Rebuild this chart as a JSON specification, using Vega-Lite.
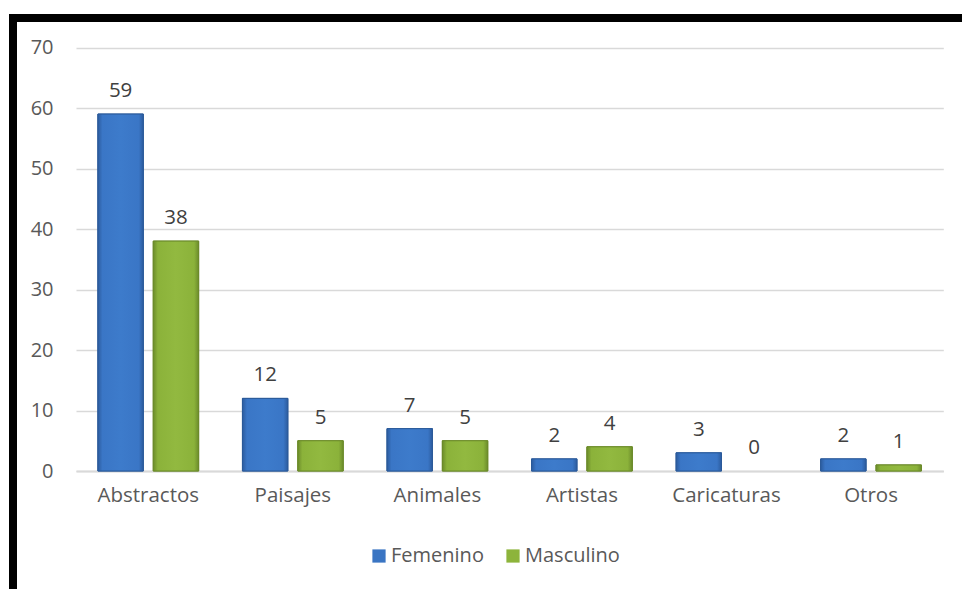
{
  "$schema": "https://vega.github.io/schema/vega-lite/v6.json",
  "width": 1000,
  "height": 600,
  "autosize": {"type": "none"},
  "padding": {"left": 13, "top": 18, "right": 0, "bottom": 0},
  "background": "white",
  "config": {
    "view": {"stroke": "black", "strokeWidth": 8},
    "font": "Open Sans"
  },
  "data": {
    "values": [
      {"cat": "Abstractos", "g": "Femenino", "v": 59},
      {"cat": "Abstractos", "g": "Masculino", "v": 38},
      {"cat": "Paisajes", "g": "Femenino", "v": 12},
      {"cat": "Paisajes", "g": "Masculino", "v": 5},
      {"cat": "Animales", "g": "Femenino", "v": 7},
      {"cat": "Animales", "g": "Masculino", "v": 5},
      {"cat": "Artistas", "g": "Femenino", "v": 2},
      {"cat": "Artistas", "g": "Masculino", "v": 4},
      {"cat": "Caricaturas", "g": "Femenino", "v": 3},
      {"cat": "Caricaturas", "g": "Masculino", "v": 0},
      {"cat": "Otros", "g": "Femenino", "v": 2},
      {"cat": "Otros", "g": "Masculino", "v": 1}
    ]
  },
  "encoding": {
    "x": {
      "field": "cat",
      "type": "nominal",
      "sort": null,
      "scale": {"range": [63, 930.3], "paddingInner": 0.303, "paddingOuter": 0.1515},
      "axis": {
        "title": null,
        "labelAngle": 0,
        "domain": true,
        "domainColor": "#d9d9d9",
        "domainWidth": 2,
        "ticks": false,
        "grid": false,
        "labelFontSize": 20.5,
        "labelColor": "#595959",
        "labelPadding": 14,
        "offset": -147
      }
    },
    "xOffset": {
      "field": "g",
      "type": "nominal",
      "scale": {"domain": ["Femenino", "Masculino"], "paddingInner": 0.18, "paddingOuter": 0}
    },
    "y": {
      "field": "v",
      "type": "quantitative",
      "scale": {"domain": [0, 70], "range": [453, 29.5], "nice": false},
      "axis": {
        "title": null,
        "values": [0, 10, 20, 30, 40, 50, 60, 70],
        "domain": false,
        "ticks": false,
        "grid": true,
        "gridColor": "#d9d9d9",
        "gridWidth": 1.5,
        "labelFontSize": 20,
        "labelColor": "#595959",
        "labelPadding": 4,
        "offset": -44
      }
    }
  },
  "layer": [
    {
      "transform": [{"filter": "datum.v > 0"}],
      "mark": {"type": "bar", "strokeWidth": 1},
      "encoding": {
        "color": {
          "field": "g",
          "type": "nominal",
          "scale": {"domain": ["Femenino", "Masculino"], "range": ["#3A75C3", "#8DB43B"]},
          "legend": {
            "orient": "none",
            "legendX": 356,
            "legendY": 528,
            "direction": "horizontal",
            "title": null,
            "symbolType": "square",
            "symbolSize": 175,
            "symbolStrokeWidth": 0,
            "labelFontSize": 20,
            "labelColor": "#595959",
            "labelOffset": 2,
            "columnPadding": 19,
            "padding": 0
          }
        },
        "stroke": {
          "field": "g",
          "type": "nominal",
          "scale": {"domain": ["Femenino", "Masculino"], "range": ["#2B5A99", "#6B8A2A"]},
          "legend": null
        }
      }
    },
    {
      "transform": [{"filter": "datum.v > 0"}],
      "mark": {"type": "bar", "strokeWidth": 1},
      "encoding": {
        "fill": {
          "condition": {
            "test": "datum.g === 'Femenino'",
            "value": {
              "gradient": "linear", "x1": 0, "x2": 1, "y1": 0, "y2": 0,
              "stops": [
                {"offset": 0, "color": "#2C5C9F"},
                {"offset": 0.1, "color": "#3A76C6"},
                {"offset": 0.5, "color": "#3D7BCB"},
                {"offset": 0.9, "color": "#3A76C6"},
                {"offset": 1, "color": "#2C5C9F"}
              ]
            }
          },
          "value": {
            "gradient": "linear", "x1": 0, "x2": 1, "y1": 0, "y2": 0,
            "stops": [
              {"offset": 0, "color": "#6C8C2B"},
              {"offset": 0.1, "color": "#8BB23A"},
              {"offset": 0.5, "color": "#92B940"},
              {"offset": 0.9, "color": "#8BB23A"},
              {"offset": 1, "color": "#6C8C2B"}
            ]
          }
        },
        "stroke": {
          "field": "g",
          "type": "nominal",
          "legend": null
        }
      }
    },
    {
      "mark": {"type": "text", "baseline": "alphabetic", "dy": -17, "fontSize": 20.5, "color": "#404040"},
      "encoding": {"text": {"field": "v", "type": "quantitative"}}
    }
  ]
}
